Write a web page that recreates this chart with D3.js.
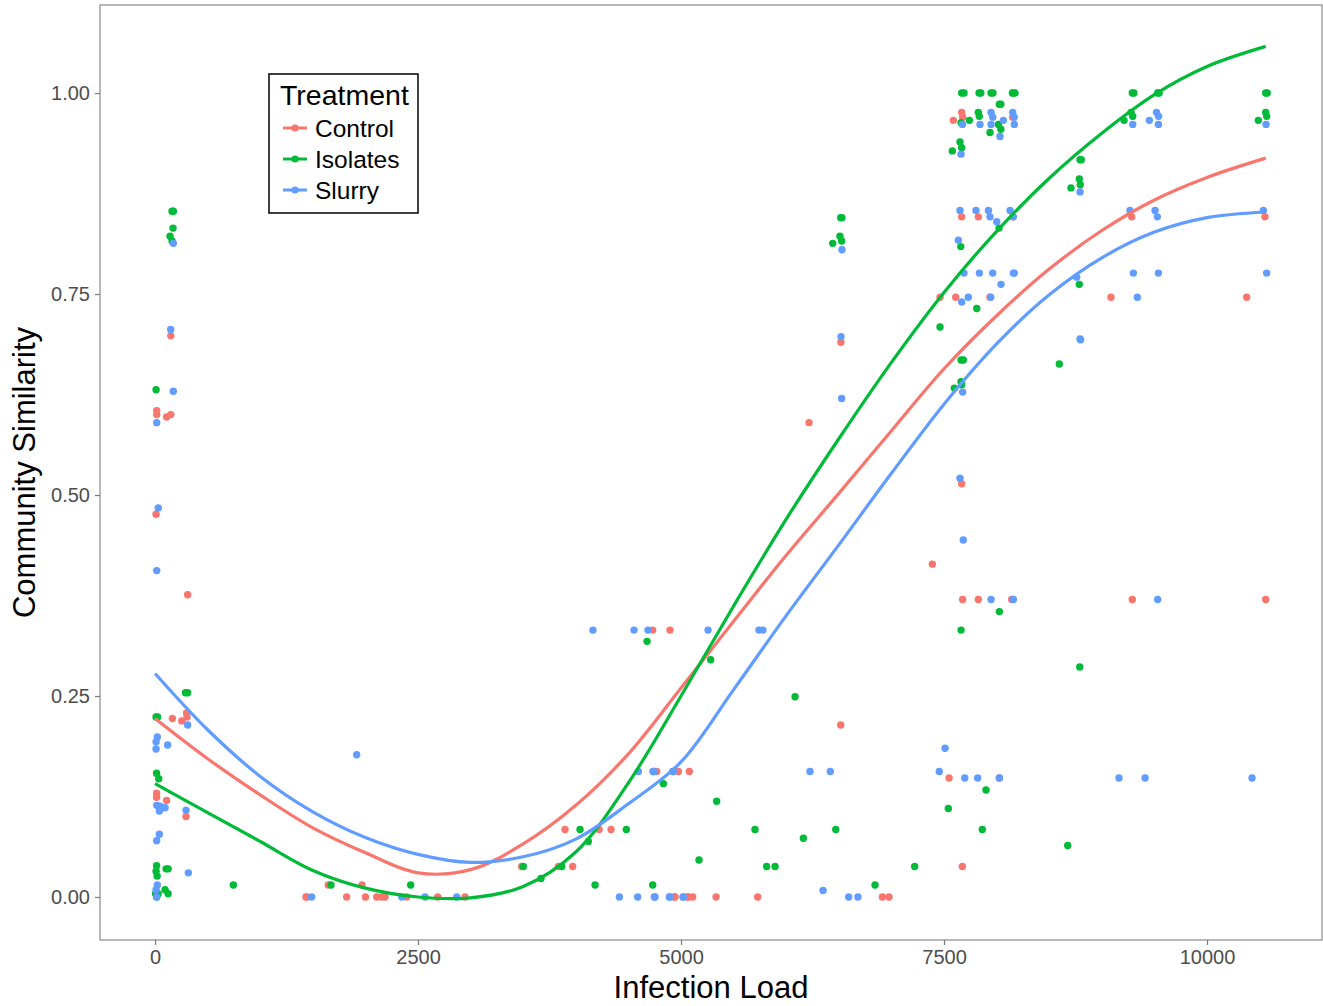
<!DOCTYPE html>
<html>
<head>
<meta charset="utf-8">
<script src="https://cdn.jsdelivr.net/npm/d3@7"></script>
<style>
  body { margin: 0; background: #fff; }
  svg text { font-family: "Liberation Sans", Arial, Helvetica, sans-serif; }
</style>
</head>
<body>
<svg id="chart" width="1323" height="1006"></svg>
<script>
// categories and colours
var treatments = ["Control", "Isolates", "Slurry"]
var colors = ["#F8766D", "#00BA38", "#619CFF"]

var xTicks = [0, 2500, 5000, 7500, 10000]
var yTicks = [0, 0.25, 0.5, 0.75, 1]

// observed points [infection load, similarity]
var controlPoints = [
  [16,0.605],[16,0.600],[110,0.597],[150,0.600],[150,0.698],[10,0.476],[310,0.376],[165,0.222],[254,0.219],
  [304,0.224],[300,0.229],[15,0.129],[15,0.124],[110,0.120],[295,0.100],
  [1435,0],[1442,0],[1822,0],[1968,0.015],[2000,0],[2107,0],[2155,0],[2186,0],[2392,0],[2687,0],[2947,0],[1647,0.015],
  [3485,0.038],[3834,0.038],[3970,0.038],[3897,0.084],[4221,0.084],[4335,0.084],
  [4769,0.156],[4737,0.156],[4975,0.156],[5079,0.156],[4731,0.332],[4895,0.332],
  [4933,0],[4943,0],[5060,0],[5070,0],[5111,0],[5333,0],[5729,0],[6914,0],[6977,0],
  [6518,0.214],[6217,0.590],[6520,0.690],
  [7389,0.414],[7548,0.148],[7674,0.038],[8026,0.148],[7668,0.514],[7677,0.370],[7826,0.370],[8143,0.370],
  [9290,0.370],[10558,0.370],
  [7462,0.746],[7611,0.746],[7937,0.746],[7668,0.846],[7826,0.846],[8153,0.846],[7668,0.976],[7589,0.966],
  [7677,0.970],[8153,0.970],[8159,0.971],
  [9284,0.846],[10551,0.846],[9087,0.746],[10377,0.746]
]

var isolatesPoints = [
  [162,0.853],[175,0.853],[171,0.832],[143,0.822],[162,0.816],[10,0.631],[10,0.224],[25,0.224],[290,0.254],
  [310,0.254],[15,0.154],[35,0.147],[15,0.039],[10,0.032],[20,0.026],[105,0.035],[125,0.035],[5,0.004],
  [30,0.004],[15,0],[95,0.009],[125,0.004],[745,0.015],
  [1673,0.015],[2430,0.015],[3501,0.038],[3669,0.023],[3866,0.038],[4040,0.084],[4119,0.069],[4183,0.015],
  [4480,0.084],[4832,0.141],[4731,0.015],[5171,0.046],[5339,0.119],[4677,0.318],[5282,0.295],
  [5703,0.084],[5814,0.038],[5894,0.038],[6084,0.249],[6163,0.073],[6471,0.084],[6844,0.015],[7221,0.038],
  [7541,0.110],[7899,0.133],[7864,0.084],[7662,0.332],[8026,0.355],[8790,0.286],[8676,0.064],
  [6518,0.845],[6530,0.845],[6511,0.822],[6442,0.813],[6527,0.816],
  [7462,0.709],[7662,0.668],[7684,0.668],[7662,0.641],[7668,0.637],[7598,0.633],[8596,0.663],
  [7668,1],[7690,1],[7833,1],[7850,1],[7947,1],[7965,1],[8159,1],[8175,1],[8026,0.986],[8040,0.986],
  [7826,0.976],[7835,0.971],[7662,0.963],[7741,0.966],[7937,0.951],[8017,0.961],[8040,0.955],[7652,0.939],
  [7668,0.932],[7579,0.928],[7659,0.809],[8023,0.832],[7811,0.732],
  [9290,1],[9305,1],[9531,1],[9545,1],[10558,1],[10572,1],[9278,0.976],[9294,0.971],[9211,0.966],
  [10488,0.966],[10558,0.976],[10567,0.971],[8793,0.917],[8805,0.917],[8786,0.893],[8795,0.886],[8707,0.882],
  [8786,0.762],[8150,1]
]

var slurryPoints = [
  [174,0.813],[149,0.706],[174,0.629],[16,0.590],[31,0.484],[16,0.406],[310,0.214],[22,0.199],[10,0.193],
  [10,0.184],[120,0.189],[16,0.114],[48,0.113],[95,0.111],[41,0.107],[295,0.108],[41,0.078],[16,0.070],
  [317,0.030],[22,0.015],[10,0.009],[16,0],
  [1489,0],[1917,0.177],[2345,0],[2567,0],[2868,0],[4414,0],[4588,0],[4746,0],[4889,0],[5022,0],[4753,0],
  [4895,0],[5019,0],
  [4595,0.156],[4746,0.156],[4927,0.156],[4734,0.156],[4921,0.156],[6226,0.156],[6419,0.156],[6350,0.008],
  [6594,0],[6682,0],
  [4163,0.332],[4553,0.332],[4686,0.332],[5257,0.332],[5741,0.332],[5779,0.332],
  [6521,0.697],[6527,0.620],[6530,0.805],
  [7455,0.156],[7510,0.185],[7697,0.148],[7820,0.148],[8026,0.148],[9163,0.148],[9411,0.148],[10428,0.148],
  [7677,0.628],[8799,0.693],[7652,0.521],[7683,0.444],[7947,0.370],[8159,0.370],[9531,0.370],
  [7675,0.961],[7842,0.961],[7947,0.976],[7963,0.970],[7947,0.961],[8064,0.966],[8153,0.976],[8168,0.970],
  [8168,0.961],[8032,0.946],[7662,0.924],[7652,0.854],[7804,0.854],[7922,0.854],[7937,0.846],[8128,0.854],
  [8159,0.846],[8001,0.840],[7636,0.817],[7690,0.776],[7836,0.776],[7963,0.776],[8168,0.776],[8042,0.762],
  [7731,0.746],[7668,0.740],[7944,0.746],
  [9294,0.961],[9452,0.966],[9520,0.976],[9540,0.971],[9538,0.961],[10561,0.961],[8793,0.877],[9268,0.854],
  [9506,0.854],[9528,0.846],[10536,0.854],[8159,0.776],[9300,0.776],[9538,0.776],[10567,0.776],[8761,0.771],
  [9338,0.746],[8793,0.694]
]

// smoothed curves
var curveX = [0, 500, 1000, 1500, 2000, 2500, 3000, 3500, 4000, 4500, 5000, 5500, 6000, 6500, 7000,
  7500, 8000, 8500, 9000, 9500, 10000, 10558]
var controlCurve = [0.222, 0.172, 0.127, 0.086, 0.055, 0.030, 0.034, 0.066, 0.114, 0.178, 0.260, 0.343,
  0.425, 0.502, 0.580, 0.657, 0.723, 0.781, 0.829, 0.867, 0.895, 0.919]
var isolatesCurve = [0.141, 0.105, 0.069, 0.033, 0.011, 0.000, -0.001, 0.013, 0.056, 0.142, 0.250, 0.362,
  0.470, 0.570, 0.665, 0.752, 0.828, 0.894, 0.950, 0.998, 1.033, 1.058]
var slurryCurve = [0.278, 0.208, 0.150, 0.106, 0.074, 0.053, 0.043, 0.050, 0.072, 0.116, 0.168, 0.258,
  0.350, 0.438, 0.527, 0.613, 0.688, 0.749, 0.795, 0.827, 0.845, 0.852]

var svg = d3.select("#chart")
var margin = {left: 100, right: 1322, top: 5, bottom: 940}

var x = d3.scaleLinear().domain([-523, 11093]).range([margin.left, margin.right])
var y = d3.scaleLinear().domain([-0.0535, 1.1095]).range([margin.bottom, margin.top])

var groups = [
  {name: treatments[0], color: colors[0], pts: controlPoints, curve: controlCurve},
  {name: treatments[1], color: colors[1], pts: isolatesPoints, curve: isolatesCurve},
  {name: treatments[2], color: colors[2], pts: slurryPoints, curve: slurryCurve}
]

// panel border
svg.append("rect")
  .attr("x", margin.left).attr("y", margin.top)
  .attr("width", margin.right - margin.left).attr("height", margin.bottom - margin.top)
  .attr("fill", "#fff").attr("stroke", "#8a8a8a").attr("stroke-width", 1.2)

// points
groups.forEach(function (g) {
  svg.append("g")
    .selectAll("circle")
    .data(g.pts)
    .join("circle")
    .attr("cx", d => x(d[0]))
    .attr("cy", d => y(d[1]))
    .attr("r", 3.7)
    .attr("fill", g.color)
})

// smooth lines
var line = d3.line()
  .x((d, i) => x(curveX[i]))
  .y(d => y(d))
  .curve(d3.curveCatmullRom)

groups.forEach(function (g) {
  svg.append("path")
    .datum(g.curve)
    .attr("d", line)
    .attr("fill", "none")
    .attr("stroke", g.color)
    .attr("stroke-width", 3.2)
})

// axes
var xAxis = svg.append("g")
  .attr("transform", "translate(0," + margin.bottom + ")")
  .call(d3.axisBottom(x).tickValues(xTicks).tickSize(5).tickPadding(5).tickFormat(d3.format("d")))
var yAxis = svg.append("g")
  .attr("transform", "translate(" + margin.left + ",0)")
  .call(d3.axisLeft(y).tickValues(yTicks).tickSize(5).tickPadding(5).tickFormat(d3.format(".2f")))

;[xAxis, yAxis].forEach(function (a) {
  a.select(".domain").remove()
  a.selectAll(".tick line").attr("stroke", "#7a7a7a").attr("stroke-width", 1.2)
  a.selectAll(".tick text").attr("fill", "#4d4d4d").style("font-size", "20px")
})

// axis titles
svg.append("text")
  .attr("x", (margin.left + margin.right) / 2).attr("y", 998)
  .attr("text-anchor", "middle").style("font-size", "31px").attr("fill", "#000")
  .text("Infection Load")

svg.append("text")
  .attr("transform", "translate(35," + (margin.top + margin.bottom) / 2 + ") rotate(-90)")
  .attr("text-anchor", "middle").style("font-size", "31px").attr("fill", "#000")
  .text("Community Similarity")

// legend
var legend = svg.append("g").attr("transform", "translate(269,74)")
legend.append("rect")
  .attr("width", 149).attr("height", 139)
  .attr("fill", "#fff").attr("stroke", "#000").attr("stroke-width", 1.5)
legend.append("text")
  .attr("x", 11).attr("y", 31)
  .style("font-size", "28.5px").text("Treatment")

var items = legend.selectAll("g.item")
  .data(groups)
  .join("g")
  .attr("class", "item")
  .attr("transform", (d, i) => "translate(0," + (54 + i * 31) + ")")
items.append("line")
  .attr("x1", 14).attr("x2", 38)
  .attr("stroke", d => d.color).attr("stroke-width", 3)
items.append("circle")
  .attr("cx", 26).attr("r", 3.6).attr("fill", d => d.color)
items.append("text")
  .attr("x", 46).attr("y", 9)
  .style("font-size", "24.5px").text(d => d.name)
</script>
</body>
</html>
